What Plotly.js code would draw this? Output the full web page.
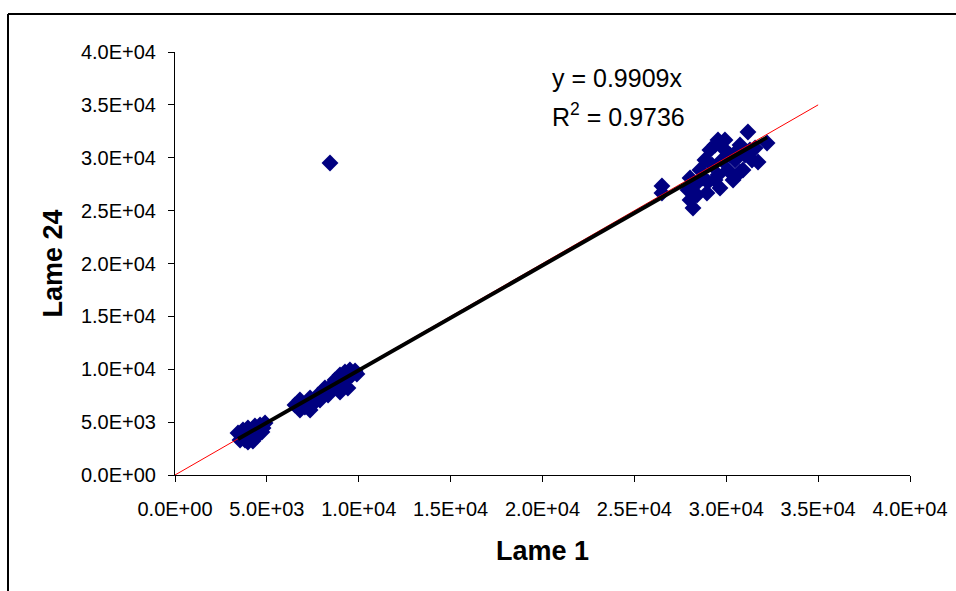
<!DOCTYPE html>
<html>
<head>
<meta charset="utf-8">
<script src="https://cdn.plot.ly/plotly-3.0.1.min.js"></script>
<style>html,body{margin:0;padding:0;background:#fff;}#chart{width:956px;height:591px;}</style>
</head>
<body>
<div id="chart"></div>
<script>
// Lame 1 (x) values
const lame1 = [
  // cluster ~4E3
  3430, 3650, 3810, 3700, 3970, 4080, 4190, 4350, 4520, 4630, 4730, 4900, 3970, 4240, 3540, 4460, 4790,
  // cluster ~8E3
  6530, 6800, 7070, 6800, 7350, 7620, 7780, 8000, 8160, 8330, 8540, 8710, 8870, 8980, 9140, 9250, 9410, 9520, 9630, 9800, 9410, 8980, 7350, 9900, 7890,
  // outlier
  8435,
  // cluster ~3E4
  31180, 26500, 26500, 28190, 28950, 30910, 31730, 32220, 28030, 28300, 28570, 28840, 29110, 29390, 29220, 29550, 29770, 29930, 30200, 30090,
  30480, 30640, 30750, 31020, 31290, 31400, 30370, 29660, 28730, 28410, 27920, 29390, 30750, 31570, 29930, 29550, 29000, 28030
];
// Lame 24 (y) values
const lame24 = [
  3970, 3590, 3310, 4260, 4440, 3880, 3500, 4630, 4260, 4730, 4070, 4920, 3120, 3210, 3310, 3690, 4440,
  6620, 7090, 6430, 6150, 7280, 6900, 7560, 7850, 8230, 7560, 8510, 8980, 8230, 9460, 8790, 9740, 9170, 9930, 9460, 9830, 8230, 7850, 6150, 9550, 7090,
  29500,
  32430, 27330, 26670, 25250, 26670, 28840, 29600, 31390, 28080, 27420, 28840, 29790, 30730, 31200, 29310, 28370, 29790, 30730, 30260, 28840,
  29790, 30730, 31200, 30260, 30730, 29790, 27900, 27140, 28080, 26480, 26950, 27900, 28650, 30920, 31680, 31680, 27710, 26000
];
const slope = 0.9909;
const r2 = 0.9736;
const identityX = [0, 35000];
const tickVals = [0, 5000, 10000, 15000, 20000, 25000, 30000, 35000, 40000];
const tickText = ["0.0E+00","5.0E+03","1.0E+04","1.5E+04","2.0E+04","2.5E+04","3.0E+04","3.5E+04","4.0E+04"];

const xMin = Math.min(...lame1), xMax = Math.max(...lame1);
const trendX = [xMin, xMax];
const trendY = trendX.map(v => slope * v);

const traces = [
  {x: lame1, y: lame24, type: 'scatter', mode: 'markers',
   marker: {symbol: 'diamond', size: 13, color: '#000080'}, hoverinfo: 'skip'},
  {x: identityX, y: identityX, type: 'scatter', mode: 'lines',
   line: {color: '#ff0000', width: 1}, hoverinfo: 'skip'},
  {x: trendX, y: trendY, type: 'scatter', mode: 'lines',
   line: {color: '#000000', width: 4}, hoverinfo: 'skip'}
];

const FONT = 'Liberation Sans, Arial, sans-serif';
const axisCommon = {
  range: [0, 40000], tickvals: tickVals, ticktext: tickText,
  showgrid: false, zeroline: false, showline: true, linecolor: '#000', linewidth: 1,
  ticks: 'outside', ticklen: 6, tickcolor: '#000', tickwidth: 1,
  tickfont: {family: FONT, size: 20, color: '#000'}
};

const frameLine = {color: '#000', width: 2};
const layout = {
  width: 956, height: 591,
  margin: {l: 175, r: 46, t: 52, b: 116},
  paper_bgcolor: '#fff', plot_bgcolor: '#fff',
  showlegend: false,
  xaxis: Object.assign({}, axisCommon, {
    ticklabelstandoff: 10,
    title: {text: '<b>Lame 1</b>', font: {family: FONT, size: 27, color: '#000'}, standoff: 22}
  }),
  yaxis: Object.assign({}, axisCommon, {
    ticklabelstandoff: 8,
    title: {text: '<b>Lame 24</b>', font: {family: FONT, size: 27, color: '#000'}, standoff: 10}
  }),
  annotations: [
    {xref: 'paper', yref: 'paper', x: (550-175)/735, y: (475-78)/423, xanchor: 'left', yanchor: 'middle',
     text: 'y = ' + slope.toFixed(4) + 'x', showarrow: false,
     font: {family: FONT, size: 25, color: '#000'}},
    {xref: 'paper', yref: 'paper', x: (550-175)/735, y: (475-115)/423, xanchor: 'left', yanchor: 'middle',
     text: 'R<sup>2</sup> = ' + r2.toFixed(4), showarrow: false,
     font: {family: FONT, size: 25, color: '#000'}}
  ],
  shapes: [
    {type: 'line', xref: 'paper', yref: 'paper', x0: (8-175)/735, x1: (960-175)/735, y0: (475-14)/423, y1: (475-14)/423, line: frameLine},
    {type: 'line', xref: 'paper', yref: 'paper', x0: (8-175)/735, x1: (8-175)/735, y0: (475-14)/423, y1: (475-595)/423, line: frameLine}
  ]
};

Plotly.newPlot('chart', traces, layout, {displayModeBar: false, staticPlot: true});
</script>
</body>
</html>
